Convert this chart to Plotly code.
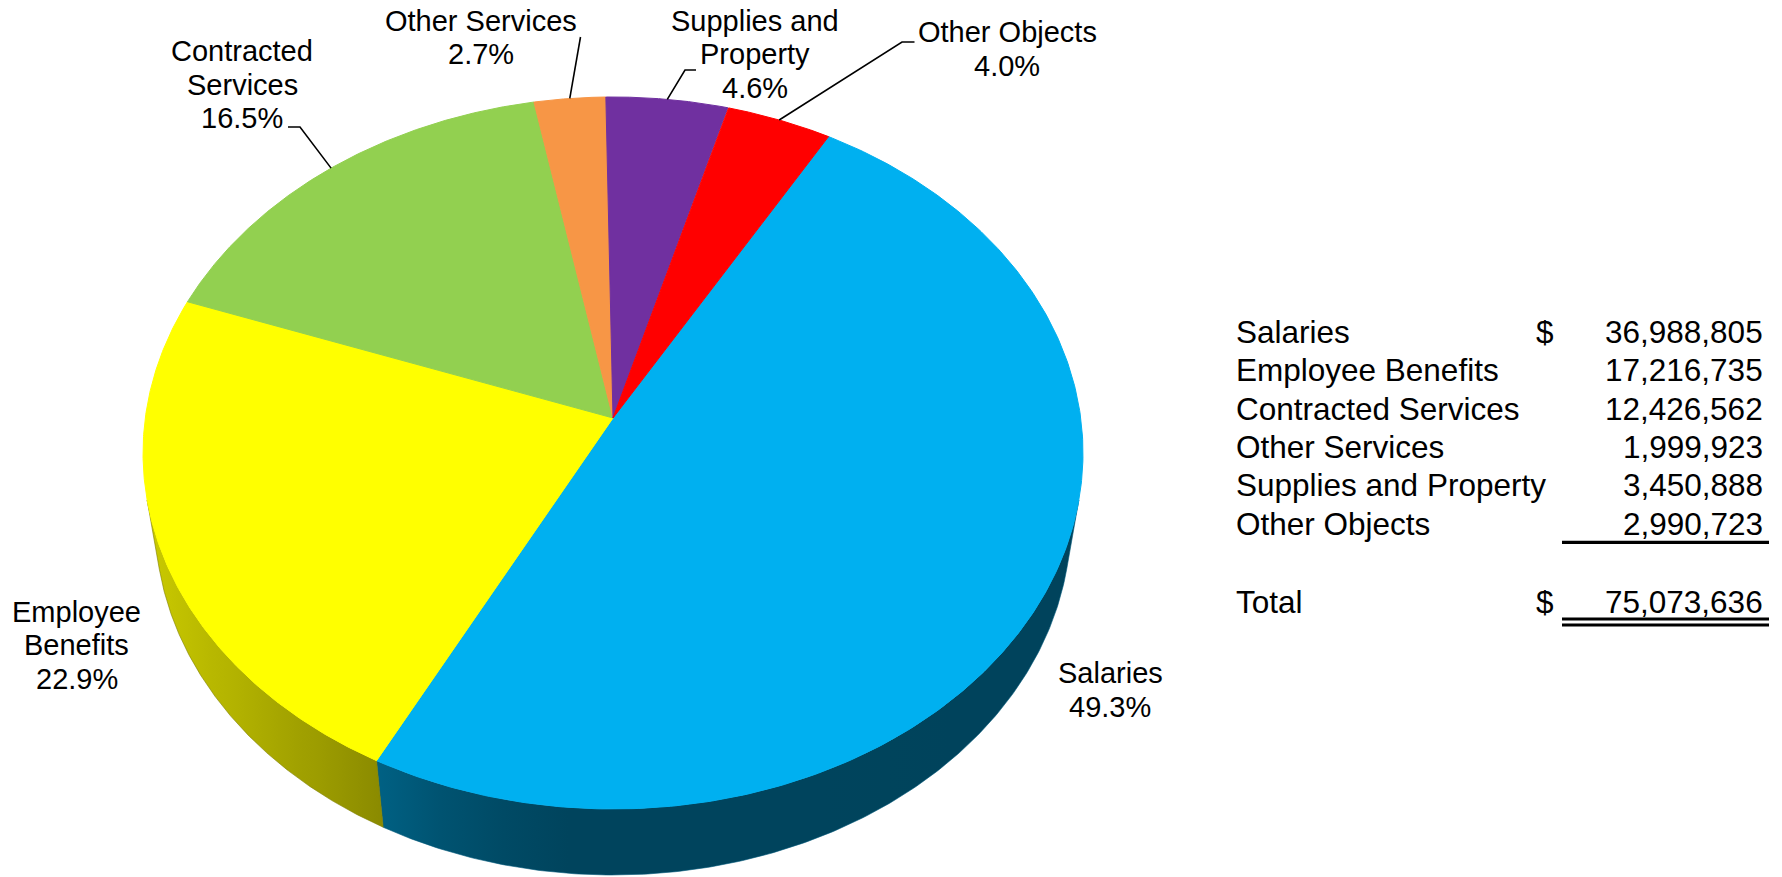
import numpy as np
import plotly.graph_objects as go

# ---- data -------------------------------------------------------------
categories = ["Salaries", "Employee Benefits", "Contracted Services",
              "Other Services", "Supplies and Property", "Other Objects"]
amounts = [36988805, 17216735, 12426562, 1999923, 3450888, 2990723]
shares = [49.3, 22.9, 16.5, 2.7, 4.6, 4.0]          # percent of total
label_lines = [["Salaries"], ["Employee", "Benefits"], ["Contracted", "Services"],
               ["Other Services"], ["Supplies and", "Property"], ["Other Objects"]]
top_colors = ["#00B0F0", "#FFFF00", "#92D050", "#F79646", "#7030A0", "#FF0000"]

# ---- 3-D pie geometry (perspective camera looking down on a disc) ------
W, H = 1782, 877
CX, CY = 613.0, 418.0          # screen position of pie centre
PHI = np.radians(48.92)        # camera elevation
DIST = 6.69                    # camera distance (disc radius = 1)
FOC = 3129.0                   # focal length in px
THICK = 0.2328                 # disc thickness
FIRST_ANGLE = 30.0             # first slice starts here, clockwise from top
sp, cp = np.sin(PHI), np.cos(PHI)
FONT = "Liberation Sans, Arial, sans-serif"


def project(theta_deg, y):
    t = np.radians(np.asarray(theta_deg, dtype=float))
    x, z = np.sin(t), -np.cos(t)
    depth = DIST - y * sp - z * cp
    return CX + FOC * x / depth, CY - FOC * (y * cp - z * sp) / depth


def rgb(hexc):
    hexc = hexc.lstrip("#")
    return np.array([int(hexc[i:i + 2], 16) for i in (0, 2, 4)], dtype=float)


def shade(hexc, f):
    c = np.clip(rgb(hexc) * f, 0, 255).astype(int)
    return f"rgb({c[0]},{c[1]},{c[2]})"


# side lighting: brightness factor against screen x
light_x = [140, 383, 460, 560, 1090]
light_f = [0.80, 0.545, 0.45, 0.39, 0.385]

# visible range of the outer wall (outward normal faces the camera)
half = np.degrees(np.arccos(-1.0 / (DIST * cp)))
vis_lo, vis_hi = half, 360 - half

bounds = np.concatenate([[0], np.cumsum(shares)]) / sum(shares) * 360 + FIRST_ANGLE
fig = go.Figure()

# outer walls
for i, col in enumerate(top_colors):
    a0, a1 = bounds[i], bounds[i + 1]
    for off in (-360, 0, 360):
        lo, hi = max(a0 + off, vis_lo), min(a1 + off, vis_hi)
        if hi <= lo:
            continue
        th = np.linspace(lo, hi, 200)
        tx, ty = project(th, 0.0)
        bx, by = project(th[::-1], -THICK)
        xs = np.concatenate([tx, bx, tx[:1]])
        ys = np.concatenate([ty, by, ty[:1]])
        x0, x1 = xs.min(), xs.max()
        samples = np.linspace(x0, x1, 12)
        cs = [[(s - x0) / (x1 - x0), shade(col, np.interp(s, light_x, light_f))]
              for s in samples]
        fig.add_trace(go.Scatter(
            x=xs, y=ys, mode="lines", fill="toself",
            line=dict(width=0.6, color=shade(col, 0.5)),
            fillgradient=dict(type="horizontal", colorscale=cs),
            hoverinfo="skip", showlegend=False))

# top faces
for i, col in enumerate(top_colors):
    th = np.linspace(bounds[i], bounds[i + 1], 300)
    ax, ay = project(th, 0.0)
    xs = np.concatenate([[CX], ax, [CX]])
    ys = np.concatenate([[CY], ay, [CY]])
    fig.add_trace(go.Scatter(
        x=xs, y=ys, mode="lines", fill="toself", fillcolor=col,
        line=dict(width=1, color=col), hoverinfo="skip", showlegend=False,
        name=categories[i]))

# ---- data labels ------------------------------------------------------
LAB_SIZE = 29
LINE_GAP = 33.5
label_pos = [(1110, 673), (76.5, 611.5), (242, 51), (481, 20.5), (754.5, 20.5), (1007, 32)]
leader_start = {2: [(288, 127), (300, 127)],
                3: [(580.5, 37)],
                4: [(696, 70), (685, 70)],
                5: [(914.5, 42), (902, 42)]}

annotations = []
for i, lines in enumerate(label_lines):
    lx, ly = label_pos[i]
    texts = lines + [f"{shares[i]:.1f}%"]
    for k, t in enumerate(texts):
        annotations.append(dict(x=lx, y=ly + k * LINE_GAP, text=t, showarrow=False,
                                xanchor="center", yanchor="middle",
                                font=dict(family=FONT, size=LAB_SIZE, color="black")))

for i, pts in leader_start.items():
    mid = (bounds[i] + bounds[i + 1]) / 2
    ex, ey = project(mid, 0.0)
    xs = [p[0] for p in pts] + [float(ex)]
    ys = [p[1] for p in pts] + [float(ey)]
    fig.add_trace(go.Scatter(x=xs, y=ys, mode="lines",
                             line=dict(color="black", width=1.6),
                             hoverinfo="skip", showlegend=False))

# ---- amounts table ----------------------------------------------------
TAB_SIZE = 31.5
row_y = [332 + 38.33 * k for k in range(len(categories))]
total_y = 601.5
name_x, dollar_x, num_x = 1234, 1545, 1765
tab_font = dict(family=FONT, size=TAB_SIZE, color="black")
for k, (name, amt) in enumerate(zip(categories, amounts)):
    annotations.append(dict(x=name_x, y=row_y[k], text=name, showarrow=False,
                            xanchor="left", yanchor="middle", font=tab_font))
    annotations.append(dict(x=num_x, y=row_y[k], text=f"{amt:,}", showarrow=False,
                            xanchor="right", yanchor="middle", font=tab_font))
annotations.append(dict(x=dollar_x, y=row_y[0], text="$", showarrow=False,
                        xanchor="center", yanchor="middle", font=tab_font))
annotations.append(dict(x=name_x, y=total_y, text="Total", showarrow=False,
                        xanchor="left", yanchor="middle", font=tab_font))
annotations.append(dict(x=dollar_x, y=total_y, text="$", showarrow=False,
                        xanchor="center", yanchor="middle", font=tab_font))
annotations.append(dict(x=num_x, y=total_y, text=f"{sum(amounts):,}", showarrow=False,
                        xanchor="right", yanchor="middle", font=tab_font))

rule_x0, rule_x1 = 1562, 1769
shapes = [
    dict(type="line", xref="x", yref="y", x0=rule_x0, x1=rule_x1, y0=542.3, y1=542.3,
         line=dict(color="black", width=3.2)),
    dict(type="line", xref="x", yref="y", x0=rule_x0, x1=rule_x1, y0=619.0, y1=619.0,
         line=dict(color="black", width=2.8)),
    dict(type="line", xref="x", yref="y", x0=rule_x0, x1=rule_x1, y0=625.0, y1=625.0,
         line=dict(color="black", width=2.8)),
]

fig.update_layout(
    width=W, height=H, margin=dict(l=0, r=0, t=0, b=0),
    paper_bgcolor="white", plot_bgcolor="white",
    xaxis=dict(range=[0, W], visible=False, fixedrange=True),
    yaxis=dict(range=[H, 0], visible=False, fixedrange=True),
    annotations=annotations, shapes=shapes, showlegend=False,
)

fig.write_html("out.html", config={"displayModeBar": False})
